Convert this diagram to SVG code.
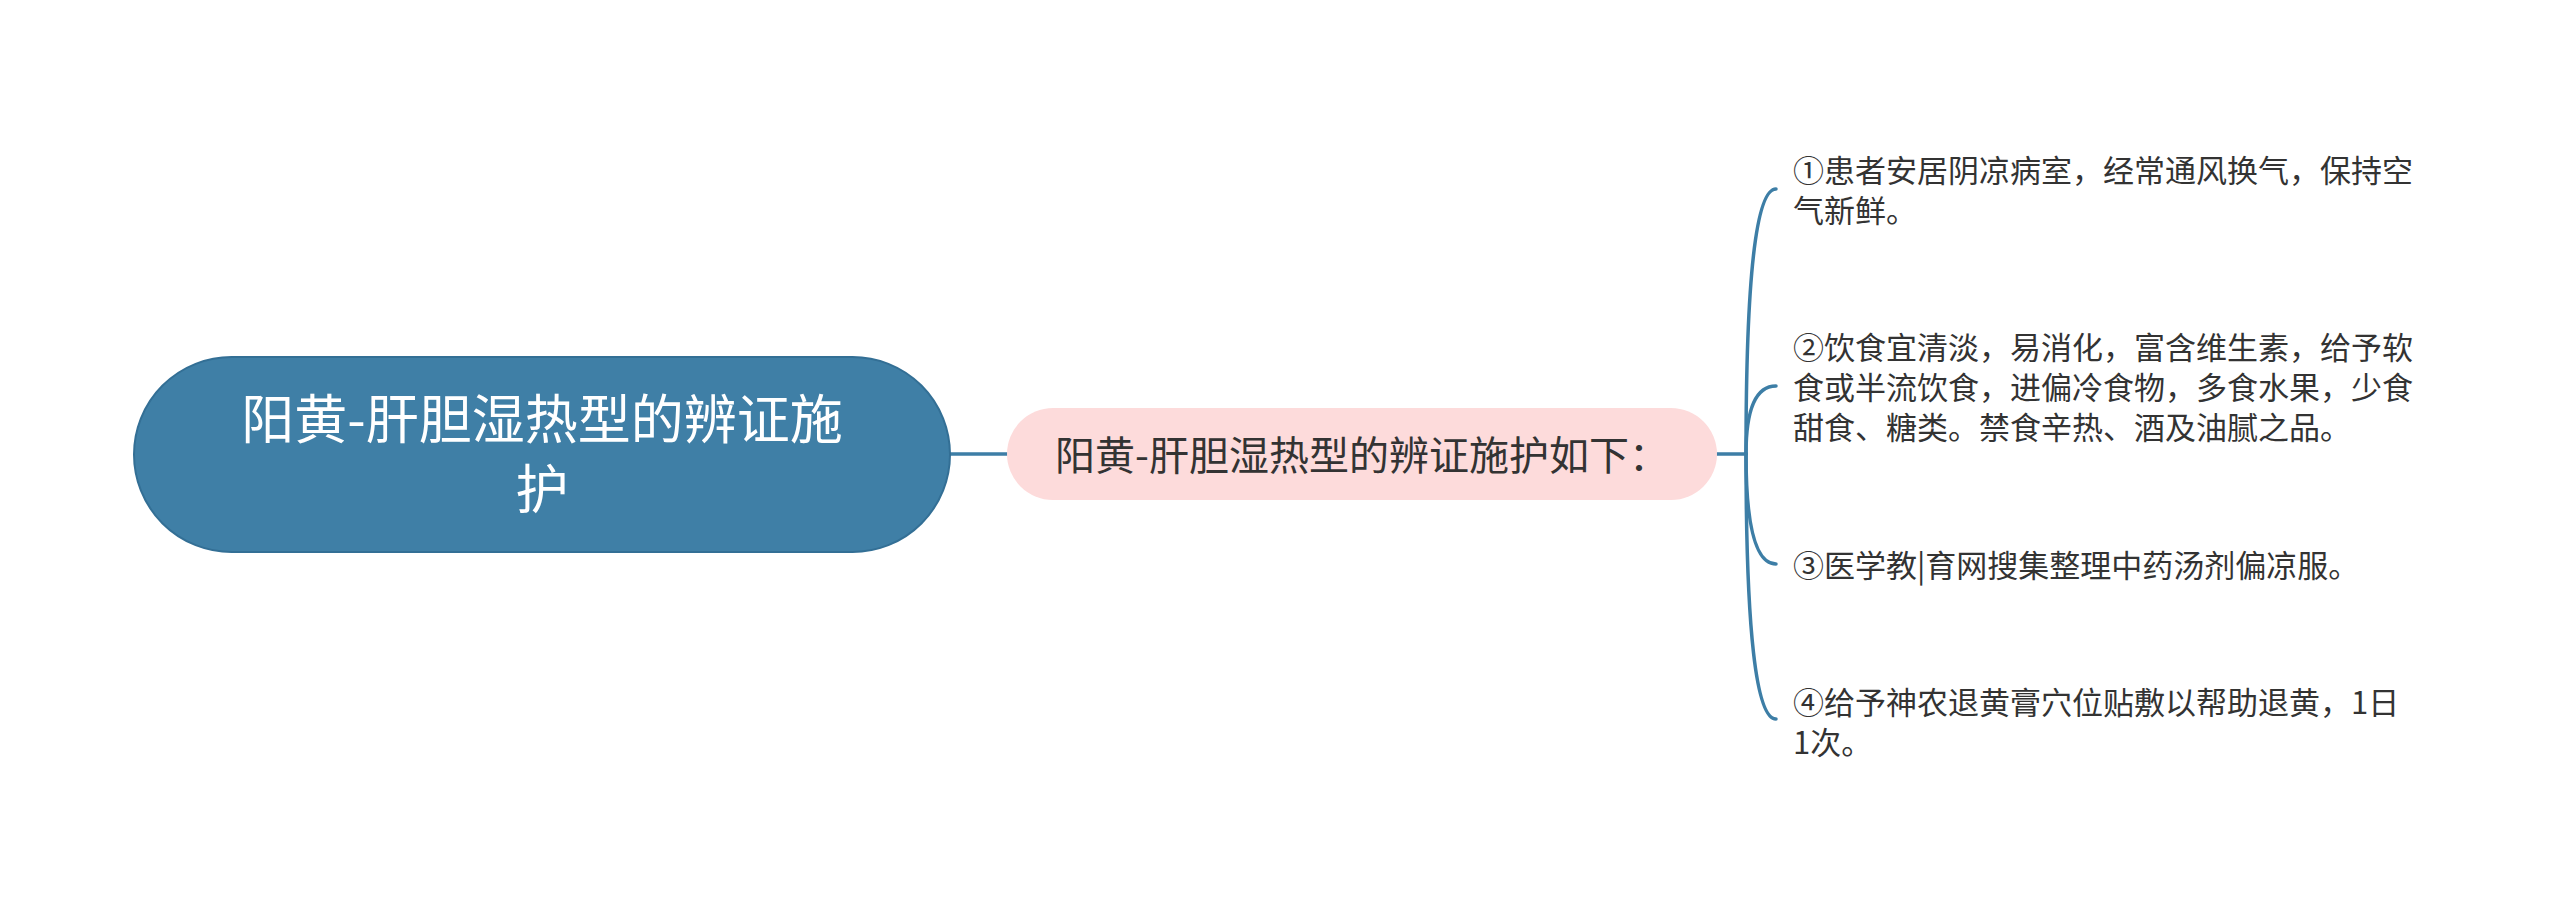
<svg xmlns="http://www.w3.org/2000/svg" width="2560" height="910" viewBox="0 0 2560 910">
<style>
.t{font-family:"Noto Sans CJK SC","Noto Sans",sans-serif;}
.root{fill:#ffffff;font-size:53px;}
.mid{fill:#333333;font-size:40px;}
.leaf{fill:#333333;font-size:31px;}
.ln{fill:none;stroke:#3d7ea6;stroke-width:3.5;stroke-linecap:round;}
</style>
<rect width="2560" height="910" fill="#ffffff"/>
<g id="connectors">
<path class="ln" d="M950 454 L1007 454"/>
<path class="ln" d="M1717 454 L1746 454"/>
<path class="ln" d="M1746 454 Q1746 189 1776 189"/>
<path class="ln" d="M1746 454 Q1746 386 1776 386"/>
<path class="ln" d="M1746 454 Q1746 564 1776 564"/>
<path class="ln" d="M1746 454 Q1746 719 1776 719"/>
</g>
<g id="root">
<rect x="134" y="357" width="816" height="195" rx="97.5" ry="97.5" fill="#3f7fa6" stroke="#336f95" stroke-width="2"/>
<text class="t root" text-anchor="middle"><tspan x="542" y="439">阳黄-肝胆湿热型的辨证施</tspan><tspan x="542" y="509">护</tspan></text>
</g>
<g id="main">
<rect x="1007" y="408" width="710" height="92" rx="46" ry="46" fill="#fddbdb"/>
<text class="t mid" x="1362" y="470" text-anchor="middle">阳黄-肝胆湿热型的辨证施护如下：</text>
</g>
<g id="leaf1">
<text class="t leaf"><tspan x="1793" y="182">①患者安居阴凉病室，经常通风换气，保持空</tspan><tspan x="1793" y="222">气新鲜。</tspan></text>
</g>
<g id="leaf2">
<text class="t leaf"><tspan x="1793" y="359">②饮食宜清淡，易消化，富含维生素，给予软</tspan><tspan x="1793" y="399">食或半流饮食，进偏冷食物，多食水果，少食</tspan><tspan x="1793" y="439">甜食、糖类。禁食辛热、酒及油腻之品。</tspan></text>
</g>
<g id="leaf3">
<text class="t leaf" x="1793" y="577">③医学教|育网搜集整理中药汤剂偏凉服。</text>
</g>
<g id="leaf4">
<text class="t leaf"><tspan x="1793" y="714">④给予神农退黄膏穴位贴敷以帮助退黄，1日</tspan><tspan x="1793" y="754">1次。</tspan></text>
</g>
</svg>
